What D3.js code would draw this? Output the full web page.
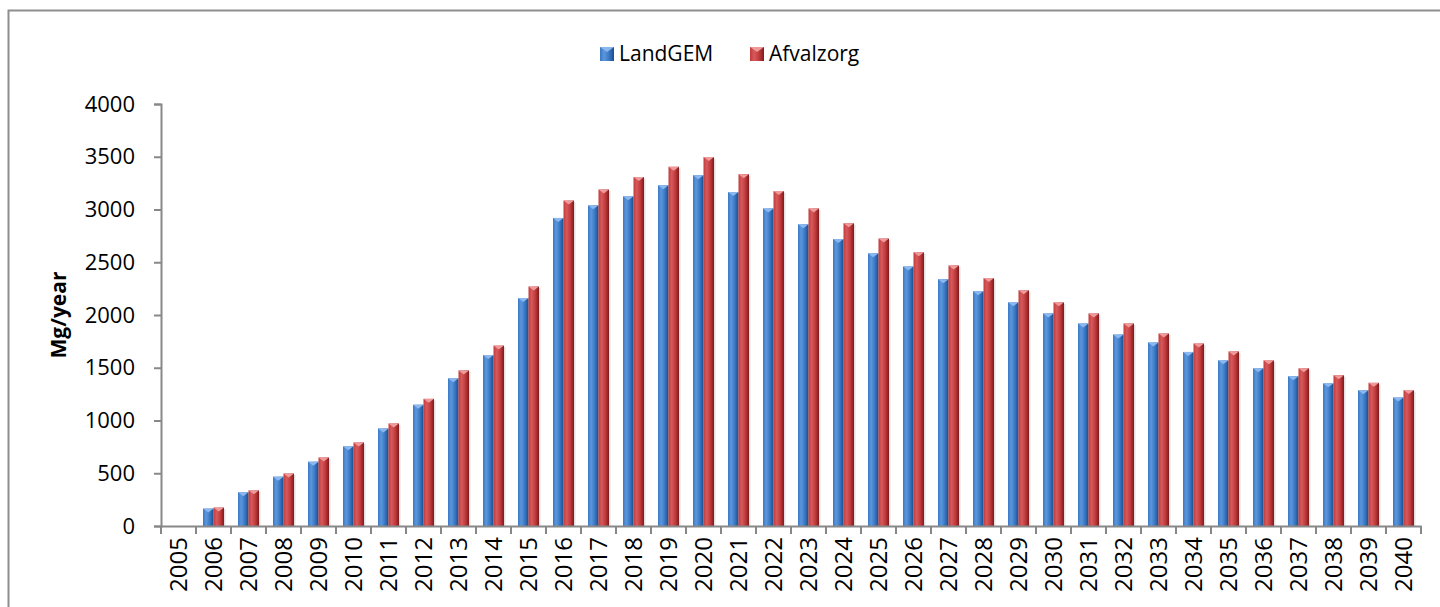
<!DOCTYPE html>
<html>
<head>
<meta charset="utf-8">
<script src="https://cdn.jsdelivr.net/npm/d3@7"></script>
<style>
  body { margin: 0; background: #fff; }
  svg { display: block; font-family: "Open Sans", sans-serif; }
</style>
</head>
<body>
<div id="chart"></div>
<script>
const years = d3.range(2005, 2041).map(String);
const series = ['LandGEM', 'Afvalzorg'];
const landgem = [0, 165, 320, 468, 610, 755, 925, 1150, 1400, 1620, 2160, 2920, 3040, 3125, 3230, 3325,
  3165, 3010, 2860, 2720, 2585, 2460, 2340, 2225, 2120, 2015, 1920, 1815, 1740, 1650, 1570, 1495,
  1420, 1352, 1287, 1218];
const afvalzorg = [0, 175, 338, 498, 650, 792, 972, 1205, 1475, 1710, 2270, 3085, 3190, 3308, 3405, 3497,
  3335, 3175, 3010, 2870, 2725, 2595, 2470, 2350, 2235, 2120, 2015, 1920, 1825, 1730, 1655, 1570,
  1495, 1430, 1357, 1288];
const yTicks = [0, 500, 1000, 1500, 2000, 2500, 3000, 3500, 4000];

const width = 1440;
const height = 607;
const margin = {top: 104, left: 161, right: 19, bottom: 81};
const font = '"Open Sans", sans-serif';

const svg = d3.select('#chart')
  .append('svg')
    .attr('width', width)
    .attr('height', height);

// frame
svg.append('rect')
  .attr('x', 8.5).attr('y', 10.5)
  .attr('width', 1460).attr('height', 640)
  .attr('fill', 'none')
  .attr('stroke', '#8e8e8e')
  .attr('stroke-width', 2);

const defs = svg.append('defs');
const palette = {
  LandGEM: {dark: '#1d4c8a', mid: '#3a78c4', light: '#5c97dd', cap: '#8ab8ee'},
  Afvalzorg: {dark: '#7e1a1c', mid: '#c23a3c', light: '#d65a5b', cap: '#ee9a9a'}
};
series.forEach(s => {
  const g = defs.append('linearGradient')
    .attr('id', 'grad-' + s)
    .attr('x1', 0).attr('x2', 1).attr('y1', 0).attr('y2', 0);
  g.append('stop').attr('offset', '0%').attr('stop-color', palette[s].mid);
  g.append('stop').attr('offset', '30%').attr('stop-color', palette[s].light);
  g.append('stop').attr('offset', '65%').attr('stop-color', palette[s].mid);
  g.append('stop').attr('offset', '100%').attr('stop-color', palette[s].dark);
});

const x = d3.scaleBand()
  .domain(years)
  .range([margin.left, width - margin.right])
  .padding(0);

const x1 = d3.scaleBand()
  .domain(series)
  .range([0, x.bandwidth()])
  .paddingInner(0)
  .paddingOuter(0.667);

const y = d3.scaleLinear()
  .domain([0, 4000])
  .range([height - margin.bottom, margin.top]);

const rows = years.map((yr, i) => ({year: yr, values: [
  {key: 'LandGEM', value: landgem[i]},
  {key: 'Afvalzorg', value: afvalzorg[i]}
]}));

const bars = svg.append('g')
  .selectAll('g')
  .data(rows)
  .join('g')
    .attr('transform', d => `translate(${x(d.year)},0)`)
  .selectAll('g')
  .data(d => d.values.filter(v => v.value > 0))
  .join('g');

// soft shadow
bars.append('rect')
  .attr('x', d => x1(d.key) + 1.5)
  .attr('y', d => y(d.value) + 1.5)
  .attr('width', x1.bandwidth())
  .attr('height', d => y(0) - y(d.value) - 1.5)
  .attr('fill', 'rgba(0,0,0,0.12)');

bars.append('rect')
  .attr('x', d => x1(d.key))
  .attr('y', d => y(d.value))
  .attr('width', x1.bandwidth())
  .attr('height', d => y(0) - y(d.value))
  .attr('fill', d => `url(#grad-${d.key})`);

// bevelled top
bars.append('path')
  .attr('d', d => {
    const x0 = x1(d.key), w = x1.bandwidth(), t = y(d.value);
    return `M${x0},${t}L${x0 + w},${t}L${x0 + w / 2},${t + 4}Z`;
  })
  .attr('fill', d => palette[d.key].cap);

// axes
const axisColor = '#888';
const yAxis = svg.append('g')
  .attr('transform', `translate(${margin.left},0)`)
  .call(d3.axisLeft(y).tickValues(yTicks).tickFormat(d3.format('d')).tickSize(7).tickPadding(19));
const xAxis = svg.append('g')
  .attr('transform', `translate(0,${y(0)})`)
  .call(d3.axisBottom(x).tickSize(0).tickPadding(0));

[yAxis, xAxis].forEach(a => {
  a.attr('font-family', font);
  a.select('.domain').attr('stroke', axisColor).attr('stroke-width', 2);
  a.selectAll('.tick line').attr('stroke', axisColor).attr('stroke-width', 2);
});
yAxis.selectAll('text')
  .attr('fill', '#000')
  .style('font-size', '22px');

xAxis.selectAll('.tick text')
  .attr('fill', '#000')
  .style('font-size', '24px')
  .attr('text-anchor', 'end')
  .attr('transform', 'rotate(-90)')
  .attr('x', -11)
  .attr('y', 0)
  .attr('dy', '0.35em');

// boundary ticks on the category axis
xAxis.append('g')
  .selectAll('line')
  .data(years.concat(['end']))
  .join('line')
    .attr('x1', d => d === 'end' ? x.range()[1] : x(d))
    .attr('x2', d => d === 'end' ? x.range()[1] : x(d))
    .attr('y1', 0)
    .attr('y2', 8)
    .attr('stroke', axisColor)
    .attr('stroke-width', 2);

svg.append('text')
  .attr('transform', 'translate(66,315) rotate(-90)')
  .attr('text-anchor', 'middle')
  .style('font-size', '21px')
  .style('font-weight', 'bold')
  .text('Mg/year');

// legend
const legend = svg.append('g')
  .selectAll('g')
  .data(series)
  .join('g')
    .attr('transform', (d, i) => `translate(${600 + i * 150},47)`);

legend.append('rect')
  .attr('width', 14).attr('height', 14)
  .attr('fill', d => `url(#grad-${d})`);
legend.append('path')
  .attr('d', 'M0,0L14,0L7,5Z')
  .attr('fill', d => palette[d].cap);
legend.append('text')
  .attr('x', 19)
  .attr('y', 7)
  .attr('dy', '0.35em')
  .style('font-size', '21px')
  .text(d => d);
</script>
</body>
</html>
